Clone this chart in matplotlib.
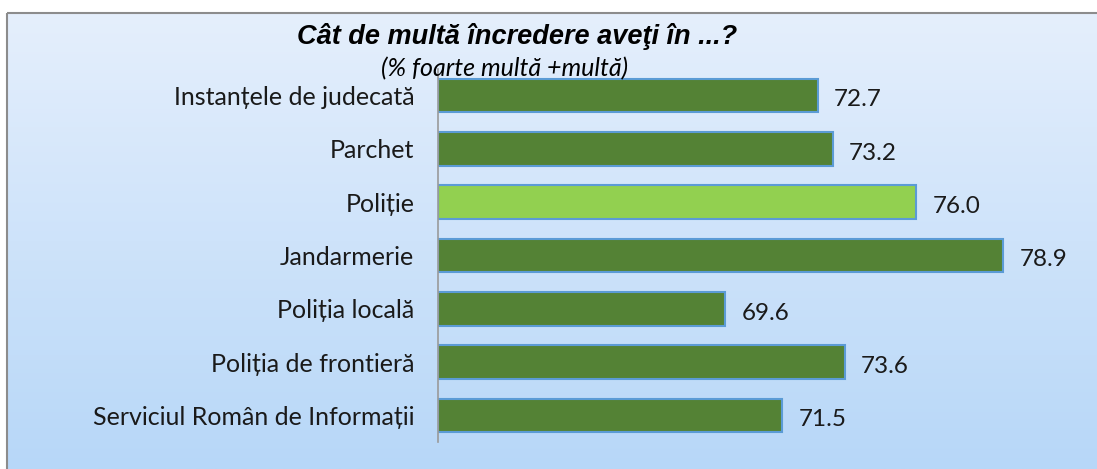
import numpy as np
import matplotlib
matplotlib.use("Agg")
import matplotlib.pyplot as plt
from matplotlib.patches import Rectangle

# data
categories = ["Instanțele de judecată", "Parchet", "Poliție", "Jandarmerie",
              "Poliția locală", "Poliția de frontieră", "Serviciul Român de Informații"]
values = [72.7, 73.2, 76.0, 78.9, 69.6, 73.6, 71.5]
highlight = "Poliție"

title = "Cât de multă încredere aveţi în ...?"
subtitle = "(% foarte multă +multă)"

dark_green = "#548235"
light_green = "#92D050"
edge_blue = "#5B9BD5"
lab_font = ["Lato", "DejaVu Sans"]

fig = plt.figure(figsize=(10.97, 4.69), dpi=100)

# background with vertical gradient and grey frame
bg = fig.add_axes([0, 0, 1, 1])
bg.set_xlim(0, 1097)
bg.set_ylim(469, 0)
bg.axis("off")
top = np.array([229, 239, 252]) / 255
bot = np.array([183, 215, 248]) / 255
t = np.linspace(0, 1, 256)[:, None, None]
grad = top * (1 - t) + bot * t
grad = np.repeat(grad, 2, axis=1)
bg.imshow(grad, extent=[7, 1097, 469, 13], aspect="auto", zorder=0)
bg.add_patch(Rectangle((7, 13), 1100, 470, fill=False, edgecolor="#8c8c8c", lw=1.5, zorder=1))

ax = fig.add_axes([438 / 1097, 1 - 442 / 469, (1036 - 438) / 1097, (442 - 69) / 469])
ax.patch.set_alpha(0)
y = np.arange(len(categories))
colors = [light_green if c == highlight else dark_green for c in categories]
ax.barh(y, [v - 60 for v in values], left=60, height=0.63, color=colors,
        edgecolor=edge_blue, linewidth=1.5)
ax.set_xlim(60, 80)
ax.set_ylim(len(categories) - 0.5, -0.5)
ax.set_yticks(y)
ax.set_yticklabels(categories, fontsize=18, family=lab_font, color="#1a1a1a")
ax.tick_params(axis="y", length=0, pad=17)
ax.set_xticks([])
for s in ["top", "right", "bottom"]:
    ax.spines[s].set_visible(False)
ax.spines["left"].set_color("#9a9a9a")
ax.spines["left"].set_linewidth(1.2)

for yi, v in zip(y, values):
    ax.text(v + 0.55, yi + 0.08, f"{v:.1f}", va="center", ha="left", fontsize=17.5,
            family=lab_font, color="#1a1a1a", clip_on=False)

fig.text(517 / 1097, 1 - 37 / 469, title, ha="center", va="center", fontsize=19.5,
         fontweight="bold", fontstyle="italic", family=["Liberation Sans", "DejaVu Sans"])
fig.text(505 / 1097, 1 - 69 / 469, subtitle, ha="center", va="center", fontsize=18,
         fontstyle="italic", family=lab_font)

fig.savefig("out.png", dpi=100)
